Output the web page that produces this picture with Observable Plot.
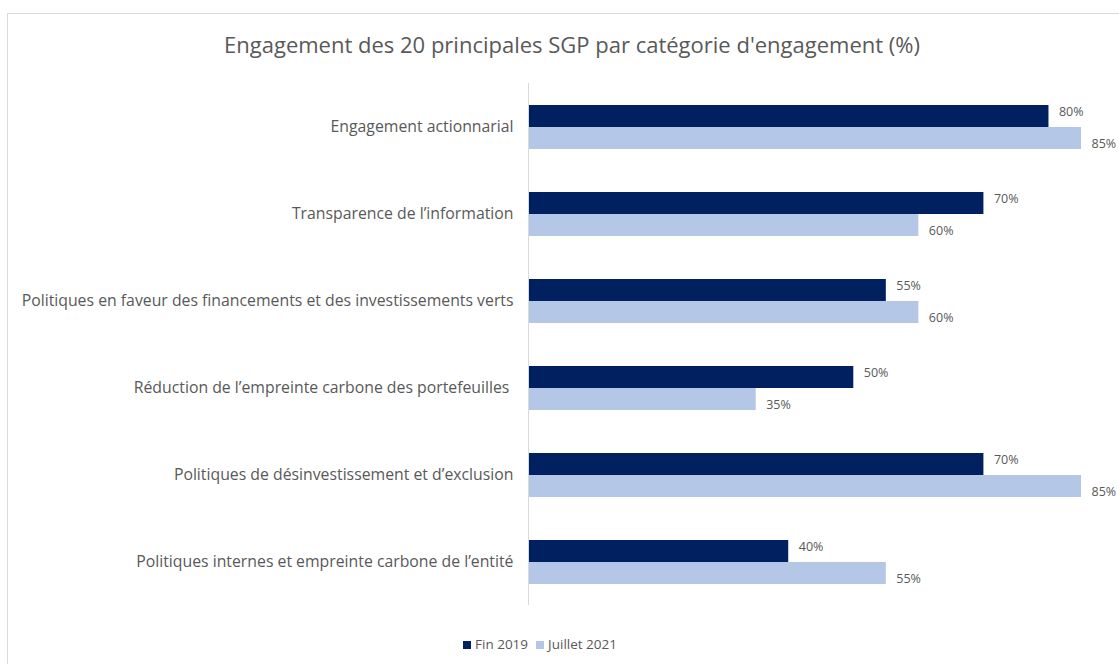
<!DOCTYPE html>
<html><head><meta charset="utf-8">
<script src="https://cdn.jsdelivr.net/npm/d3@7"></script>
<script src="https://cdn.jsdelivr.net/npm/@observablehq/plot@0.6"></script>
<style>
body{margin:0;background:#fff;font-family:"Open Sans",sans-serif;}
#frame{position:absolute;left:7px;top:13px;width:1130px;height:670px;border:1px solid #d9d9d9;box-sizing:border-box;}
#title{position:absolute;left:0;width:1144px;top:29px;text-align:center;font-size:22px;color:#595959;}
#chart{position:absolute;left:0;top:60px;}
#legend{position:absolute;left:0;width:1080px;top:635px;text-align:center;font-size:13.5px;color:#595959;}
#legend span.sw{display:inline-block;width:8px;height:8px;margin-right:4px;}
#legend span.item{margin:0 4px;}
</style></head>
<body>
<div id="frame"></div>
<div id="title">Engagement des 20 principales SGP par catégorie d'engagement (%)</div>
<div id="chart"></div>
<div id="legend"></div>
<script>
const categories = [
  "Engagement actionnarial",
  "Transparence de l’information",
  "Politiques en faveur des financements et des investissements verts",
  "Réduction de l’empreinte carbone des portefeuilles ",
  "Politiques de désinvestissement et d’exclusion",
  "Politiques internes et empreinte carbone de l’entité"
];
const seriesNames = ["Fin 2019", "Juillet 2021"];
const fin2019 = [80, 70, 55, 50, 70, 40];
const juillet2021 = [85, 60, 60, 35, 85, 55];
const colors = ["#002060", "#b4c7e7"];

const data = [];
categories.forEach((c, i) => {
  data.push({category: c, series: seriesNames[0], value: fin2019[i]});
  data.push({category: c, series: seriesNames[1], value: juillet2021[i]});
});
const d0 = data.filter(d => d.series === seriesNames[0]);
const d1 = data.filter(d => d.series === seriesNames[1]);

const plot = Plot.plot({
  width: 1119,
  height: 570,
  marginTop: 21,
  marginBottom: 23,
  marginLeft: 528,
  marginRight: 38,
  style: {fontFamily: "'Open Sans', sans-serif", color: "#595959", background: "transparent"},
  x: {domain: [0, 85], axis: null},
  y: {domain: seriesNames, axis: null, paddingInner: 0, paddingOuter: 0.95},
  fy: {domain: categories, padding: 0, label: null, axis: null},
  color: {domain: seriesNames, range: colors},
  marks: [
    Plot.axisFy({anchor: "left", tickSize: 0, tickPadding: 15, label: null, fontSize: 15.8, fill: "#595959"}),
    Plot.barX(data, {fy: "category", y: "series", x: "value", fill: "series"}),
    Plot.ruleX([0], {stroke: "#d9d9d9"}),
    Plot.text(d0, {fy: "category", y: "series", x: "value", text: d => d.value + "%",
      textAnchor: "start", dx: 10, dy: -5, fontSize: 12.5, fill: "#595959"}),
    Plot.text(d1, {fy: "category", y: "series", x: "value", text: d => d.value + "%",
      textAnchor: "start", dx: 10, dy: 5, fontSize: 12.5, fill: "#595959"})
  ]
});
document.getElementById("chart").appendChild(plot);

const lg = document.getElementById("legend");
seriesNames.forEach((s, i) => {
  const it = document.createElement("span");
  it.className = "item";
  it.innerHTML = `<span class="sw" style="background:${colors[i]}"></span>${s}`;
  lg.appendChild(it);
});
</script>
</body></html>
